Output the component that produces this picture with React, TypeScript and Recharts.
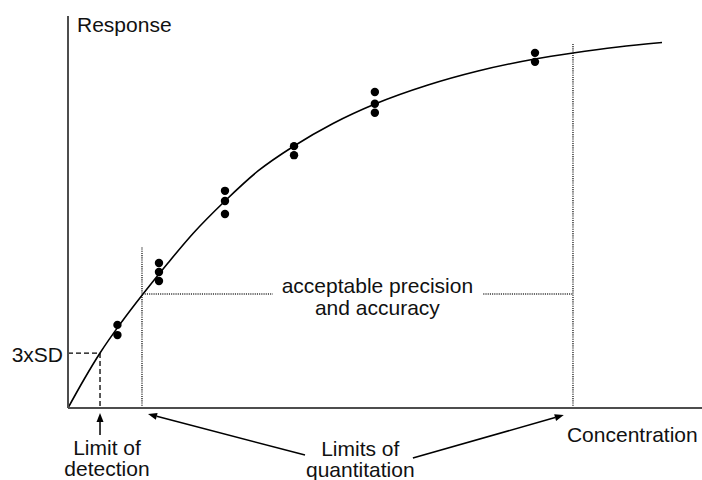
import React from "react";
import {
  ComposedChart,
  Line,
  Scatter,
  XAxis,
  YAxis,
  ReferenceLine,
  ReferenceDot,
} from "recharts";

// Calibration curve (concentration vs response, arbitrary units 0-100)
const curveX = [0, 2.52, 5.05, 8.52, 11.83, 15.77, 19.72, 24.76, 29.97, 35.65, 41.8, 48.42, 56.78, 64.67, 73.66, 79.65, 86.75, 93.69];
const curveY = [0, 7.27, 14.03, 22.07, 29.08, 36.99, 44.52, 52.81, 60.46, 66.84, 72.58, 77.55, 82.4, 85.97, 89.03, 90.56, 92.09, 93.24];

// Replicate measurements
const pointX = [7.8, 7.8, 14.35, 14.35, 14.35, 24.76, 24.76, 24.76, 35.65, 35.65, 48.4, 48.4, 48.4, 73.66, 73.66];
const pointY = [21.2, 18.6, 37.0, 34.7, 32.4, 55.4, 52.8, 49.5, 66.8, 64.5, 80.6, 77.6, 75.3, 90.6, 88.3];

// Key levels
const lod = { x: 5.05, y: 14.0 };
const loqLow = 11.67;
const loqHigh = 79.65;
const loqLowTop = 41.1;
const loqHighTop = 93.1;
const precisionLevel = 29.1;

const curve = curveX.map((x, i) => ({ x, y: curveY[i] }));
const points = pointX.map((x, i) => ({ x, y: pointY[i] }));

const FONT = "'Liberation Sans', Arial, Helvetica, sans-serif";
const FS = 21;

type Ann = { x: number; y: number; text: string; anchor: "start" | "middle" | "end" };
const annotations: Ann[] = [
  { x: 1.42, y: 95.9, text: "Response", anchor: "start" },
  { x: -0.79, y: 11.7, text: "3xSD", anchor: "end" },
  { x: 6.15, y: -12.0, text: "Limit of", anchor: "middle" },
  { x: 6.15, y: -17.4, text: "detection", anchor: "middle" },
  { x: 46.1, y: -12.2, text: "Limits of", anchor: "middle" },
  { x: 46.1, y: -17.5, text: "quantitation", anchor: "middle" },
  { x: 78.7, y: -8.7, text: "Concentration", anchor: "start" },
  { x: 48.8, y: 29.3, text: "acceptable precision", anchor: "middle" },
  { x: 48.8, y: 23.7, text: "and accuracy", anchor: "middle" },
];

type Seg = [{ x: number; y: number }, { x: number; y: number }];
const arrows: Seg[] = [
  [{ x: 5.05, y: -6.9 }, { x: 5.05, y: -1.3 }],
  [{ x: 37.38, y: -12.0 }, { x: 12.62, y: -1.55 }],
  [{ x: 54.4, y: -12.76 }, { x: 78.2, y: -1.8 }],
];

const ArrowShape = (p: any) => {
  const { x1, y1, x2, y2 } = p;
  const dx = x2 - x1;
  const dy = y2 - y1;
  const len = Math.sqrt(dx * dx + dy * dy) || 1;
  const ux = dx / len;
  const uy = dy / len;
  const hl = 9;
  const hw = 3.5;
  const bx = x2 - ux * hl;
  const by = y2 - uy * hl;
  const pts = `${x2},${y2} ${bx - uy * hw},${by + ux * hw} ${bx + uy * hw},${by - ux * hw}`;
  return (
    <g>
      <line x1={x1} y1={y1} x2={bx} y2={by} stroke="#000" strokeWidth={1.5} />
      <polygon points={pts} fill="#000" />
    </g>
  );
};

const makeText = (a: Ann) => (p: any) => (
  <text
    x={p.cx}
    y={p.cy}
    textAnchor={a.anchor}
    fontFamily={FONT}
    fontSize={FS}
    fill="#111"
  >
    {a.text}
  </text>
);

const Dot = (p: any) => <circle cx={p.cx} cy={p.cy} r={4.2} fill="#000" />;

const dotted = { stroke: "#333", strokeWidth: 1.5, strokeDasharray: "1.1 1.1" };
const dashed = { stroke: "#000", strokeWidth: 1.3, strokeDasharray: "5 3" };

export default function App() {
  return (
    <div style={{ position: "absolute", left: 0, top: 0, background: "#fff" }}>
      <ComposedChart
        width={702}
        height={480}
        margin={{ top: 16, right: 0, bottom: 0, left: 0 }}
      >
        <XAxis
          type="number"
          dataKey="x"
          domain={[0, 100]}
          height={72}
          tick={false}
          tickLine={false}
          axisLine={{ stroke: "#4d4d4d", strokeWidth: 2 }}
          allowDataOverflow
        />
        <YAxis
          type="number"
          dataKey="y"
          domain={[0, 100]}
          width={68}
          tick={false}
          tickLine={false}
          axisLine={{ stroke: "#4d4d4d", strokeWidth: 2 }}
          allowDataOverflow
        />

        {/* LOD dashed guides */}
        <ReferenceLine segment={[{ x: 0, y: lod.y }, { x: lod.x, y: lod.y }]} {...dashed} ifOverflow="visible" />
        <ReferenceLine segment={[{ x: lod.x, y: lod.y }, { x: lod.x, y: 0 }]} {...dashed} ifOverflow="visible" />

        {/* LOQ dotted guides */}
        <ReferenceLine segment={[{ x: loqLow, y: 0 }, { x: loqLow, y: loqLowTop }]} {...dotted} ifOverflow="visible" />
        <ReferenceLine segment={[{ x: loqHigh, y: 0 }, { x: loqHigh, y: loqHighTop }]} {...dotted} ifOverflow="visible" />
        <ReferenceLine segment={[{ x: 12.1, y: precisionLevel }, { x: 32.3, y: precisionLevel }]} {...dotted} ifOverflow="visible" />
        <ReferenceLine segment={[{ x: 65.5, y: precisionLevel }, { x: loqHigh, y: precisionLevel }]} {...dotted} ifOverflow="visible" />

        <Line
          data={curve}
          dataKey="y"
          type="monotone"
          stroke="#000"
          strokeWidth={1.6}
          dot={false}
          activeDot={false}
          isAnimationActive={false}
        />
        <Scatter data={points} dataKey="y" shape={Dot} isAnimationActive={false} />

        {arrows.map((s, i) => (
          <ReferenceLine key={"a" + i} segment={s} shape={ArrowShape} ifOverflow="visible" />
        ))}

        {annotations.map((a, i) => (
          <ReferenceDot
            key={"t" + i}
            x={a.x}
            y={a.y}
            r={1}
            ifOverflow="visible"
            shape={makeText(a)}
          />
        ))}
      </ComposedChart>
    </div>
  );
}
